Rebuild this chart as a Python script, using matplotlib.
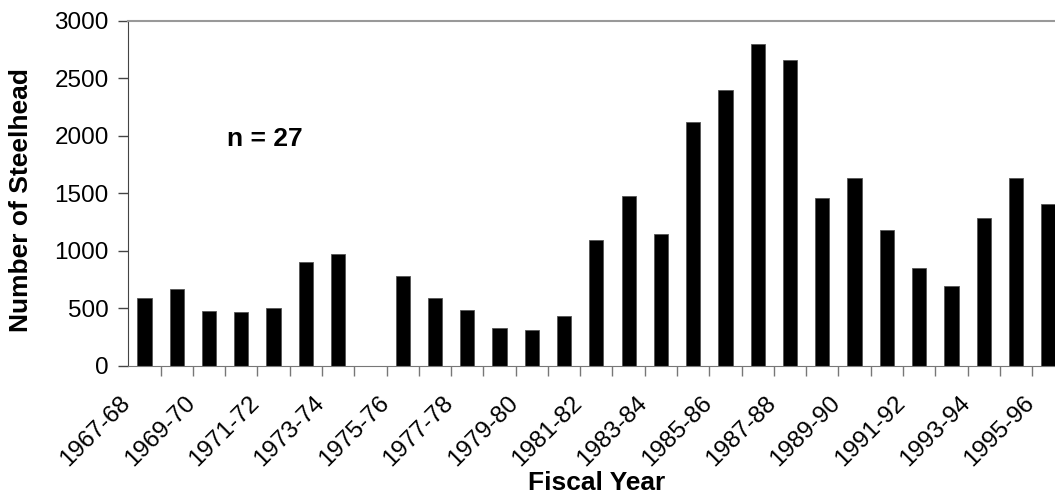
import matplotlib
matplotlib.use("Agg")
import matplotlib.pyplot as plt
import matplotlib.transforms as mtransforms
import numpy as np

plt.rcParams['font.family'] = ['Liberation Sans', 'DejaVu Sans']

# fiscal years shown on the axis (1974-75 has no bar)
fiscal_years = ["1967-68", "1968-69", "1969-70", "1970-71", "1971-72", "1972-73",
                "1973-74", "1974-75", "1975-76", "1976-77", "1977-78", "1978-79",
                "1979-80", "1980-81", "1981-82", "1982-83", "1983-84", "1984-85",
                "1985-86", "1986-87", "1987-88", "1988-89", "1989-90", "1990-91",
                "1991-92", "1992-93", "1993-94", "1994-95", "1995-96"]
steelhead = [585, 670, 480, 465, 500, 900, 970, 0, 778, 587, 482, 325, 308, 430,
             1094, 1474, 1146, 2121, 2399, 2800, 2658, 1457, 1631, 1178, 848, 691,
             1283, 1631, 1405]
y_ticks = [0, 500, 1000, 1500, 2000, 2500, 3000]

TICK_FS = 17.5
BOLD_FS = 19

fig = plt.figure(figsize=(10.55, 4.95), dpi=100)
# the plot area runs a little past the right edge, like the original
ax = fig.add_axes([0.1216, 0.2612, 0.8873, 0.6964])

x = np.arange(len(fiscal_years))
ax.bar(x, steelhead, width=0.44, color="black", edgecolor="#555555", linewidth=0.6)

ax.set_xlim(-0.5, len(fiscal_years) - 0.5)
ax.set_ylim(0, 3000)
ax.set_yticks(y_ticks)
ax.set_yticklabels([str(v) for v in y_ticks], fontsize=TICK_FS)

# ticks between categories, labels on every second category
ax.set_xticks(x[:-1] + 0.5)
ax.set_xticklabels([])
ax.set_xticks(x[::2], minor=True)
ax.set_xticklabels(fiscal_years[::2], minor=True, fontsize=TICK_FS, rotation=45,
                   ha="right", rotation_mode="anchor")
ax.tick_params(axis="x", which="major", length=7, width=1, color="#777777", direction="out")
ax.tick_params(axis="x", which="minor", length=0, pad=19)
ax.tick_params(axis="y", length=7, width=1, color="#444444", pad=7)

# nudge rotated labels left so they end just before the category centre
shift = mtransforms.ScaledTranslation(-0.25, 0.0, fig.dpi_scale_trans)
for lbl in ax.get_xticklabels(minor=True):
    lbl.set_transform(lbl.get_transform() + shift)

ax.spines["right"].set_visible(False)
ax.spines["top"].set_color("#999999")
ax.spines["top"].set_linewidth(1.5)
ax.spines["left"].set_color("#444444")
ax.spines["bottom"].set_color("#777777")

fig.text(21 / 1055, 1 - 200 / 495, "Number of Steelhead", fontsize=BOLD_FS,
         fontweight="bold", rotation=90, ha="center", va="center")
fig.text(597 / 1055, 1 - 483 / 495, "Fiscal Year", fontsize=BOLD_FS,
         fontweight="bold", ha="center", va="center")

ax.text(2.55, 1977, "n = 27", fontsize=BOLD_FS, fontweight="bold", va="center", ha="left")

fig.savefig("out.png", dpi=100)
